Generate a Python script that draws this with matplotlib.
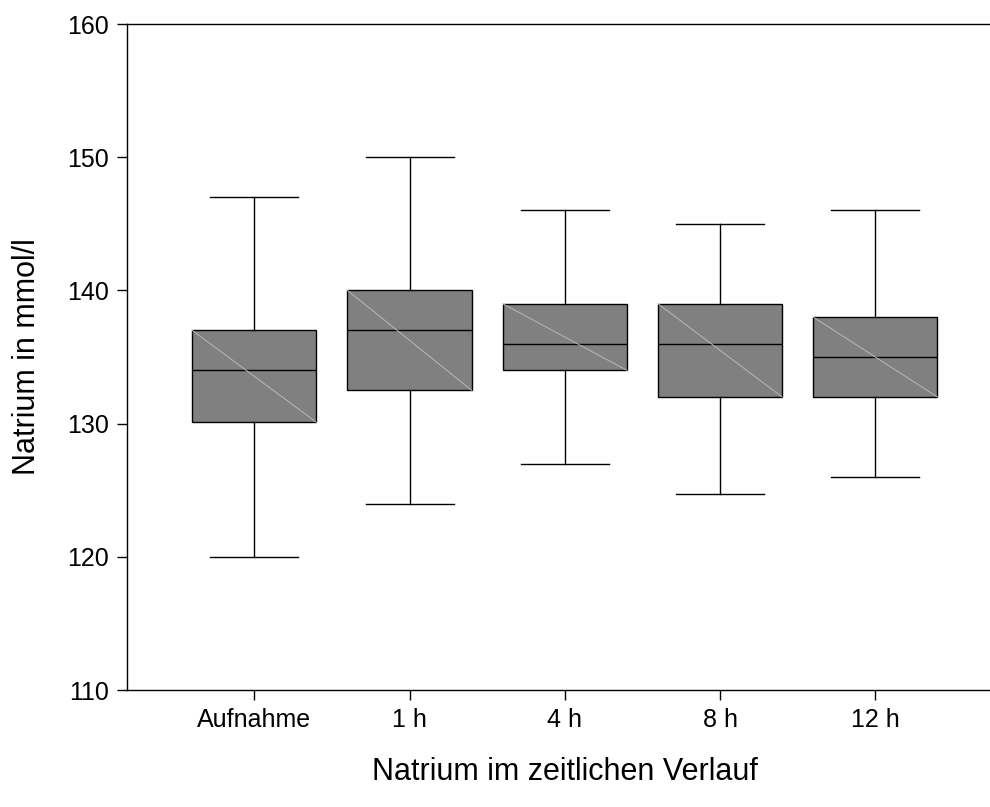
import matplotlib
matplotlib.use("Agg")
import matplotlib.pyplot as plt

plt.rcParams['font.family'] = ['Liberation Sans', 'DejaVu Sans']

# Natrium (mmol/l) at admission and after 1, 4, 8 and 12 hours
categories = ["Aufnahme", "1 h", "4 h", "8 h", "12 h"]
whisker_low = [120.0, 124.0, 127.0, 124.7, 126.0]
q1 = [130.1, 132.5, 134.0, 132.0, 132.0]
median = [134.0, 137.0, 136.0, 136.0, 135.0]
q3 = [137.0, 140.0, 139.0, 139.0, 138.0]
whisker_high = [147.0, 150.0, 146.0, 145.0, 146.0]
yticks = [110, 120, 130, 140, 150, 160]

fig = plt.figure(figsize=(9.9, 8.07), dpi=100)
ax = fig.add_axes([127 / 990, 117 / 807, 875.6 / 990, 666 / 807])

stats = []
for lab, lo, a, m, b, hi in zip(categories, whisker_low, q1, median, q3, whisker_high):
    stats.append(dict(label=lab, whislo=lo, q1=a, med=m, q3=b, whishi=hi, fliers=[]))

positions = list(range(1, len(categories) + 1))
box_w = 0.8
ax.bxp(stats, positions=positions, widths=box_w, capwidths=0.567,
       patch_artist=True, showfliers=False,
       boxprops=dict(facecolor="#808080", edgecolor="black", linewidth=1.0),
       medianprops=dict(color="black", linewidth=1.0),
       whiskerprops=dict(color="black", linewidth=1.0),
       capprops=dict(color="black", linewidth=1.0))

# light diagonal stroke across each box
for p, a, b in zip(positions, q1, q3):
    ax.plot([p - box_w / 2, p + box_w / 2], [b, a], color="#b8b8b8",
            linewidth=0.7, zorder=3)

ax.set_xlim(0.18, 5.82)
ax.set_ylim(110, 160)
ax.set_yticks(yticks)
ax.set_xticks(positions)
ax.set_xticklabels(categories)
ax.tick_params(axis='both', direction='out', length=7, width=1.0,
               labelsize=18, colors="black", pad=6)

for s in ["left", "bottom", "top"]:
    ax.spines[s].set_linewidth(1.0)
    ax.spines[s].set_color("black")
ax.spines["right"].set_visible(False)

ax.set_ylabel("Natrium in mmol/l", fontsize=22, labelpad=18)
ax.set_xlabel("Natrium im zeitlichen Verlauf", fontsize=22, labelpad=18)

fig.savefig("out.png", dpi=100)
